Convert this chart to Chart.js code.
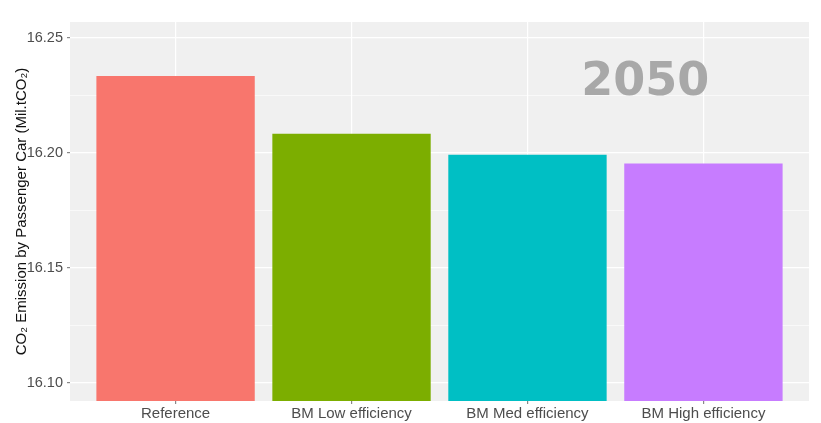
<!DOCTYPE html>
<html><head><meta charset="utf-8">
<script src="https://cdn.jsdelivr.net/npm/chart.js@4/dist/chart.umd.min.js"></script>
<style>html,body{margin:0;padding:0;background:#fff}#wrap{width:821px;height:423px}</style>
</head><body><div id="wrap"><canvas id="c" width="821" height="423"></canvas></div>
<script>
const categories = ["Reference", "BM Low efficiency", "BM Med efficiency", "BM High efficiency"];
const emissions = [16.2335, 16.2084, 16.1993, 16.1955];
const barColors = ["#F8766D", "#7CAE00", "#00BFC4", "#C77CFF"];
const yMajorTicks = [16.10, 16.15, 16.20, 16.25];
const yMinorTicks = [16.125, 16.175, 16.225];
const annotationText = "2050";
const annotationPos = {x: 2.67, y: 16.2305};

const panelBg = {
  id: 'panelBg',
  beforeDraw(chart) {
    const a = chart.chartArea, ctx = chart.ctx;
    ctx.save(); ctx.fillStyle = '#F0F0F0';
    ctx.fillRect(a.left, a.top, a.right - a.left, a.bottom - a.top);
    ctx.restore();
  }
};
const annot = {
  id: 'annot',
  afterDatasetsDraw(chart) {
    const ctx = chart.ctx, xs = chart.scales.x, ys = chart.scales.y;
    ctx.save();
    ctx.font = 'bold 46px "DejaVu Sans"';
    ctx.fillStyle = '#A8A8A8';
    ctx.textAlign = 'center'; ctx.textBaseline = 'middle';
    ctx.fillText(annotationText, xs.getPixelForValue(annotationPos.x), ys.getPixelForValue(annotationPos.y));
    ctx.restore();
  }
};

const allY = yMajorTicks.concat(yMinorTicks).sort((a,b)=>a-b);
const isMajor = v => yMajorTicks.some(t => Math.abs(t - v) < 1e-6);

new Chart(document.getElementById('c'), {
  type: 'bar',
  data: {
    datasets: [{
      data: categories.map((c, i) => ({x: i, y: emissions[i]})),
      backgroundColor: barColors,
      borderWidth: 0,
      barPercentage: 0.9,
      categoryPercentage: 1.0
    }]
  },
  plugins: [panelBg, annot],
  options: {
    responsive: false,
    animation: false,
    layout: {padding: {left: 13, top: 22, right: 12, bottom: 0}},
    plugins: {legend: {display: false}, tooltip: {enabled: false}},
    scales: {
      x: {
        type: 'linear', min: -0.6, max: 3.6, offset: false,
        afterBuildTicks: s => { s.ticks = categories.map((c, i) => ({value: i})); },
        afterFit: s => { s.height = 22; },
        ticks: {
          callback: v => categories[v] ?? '',
          color: '#4D4D4D', font: {family: '"Liberation Sans", Arial', size: 15},
          padding: 1, maxRotation: 0, autoSkip: false
        },
        grid: {offset: false, color: '#FFFFFF', lineWidth: 1.2, tickLength: 3, tickColor: '#888888', drawTicks: true},
        border: {display: false}
      },
      y: {
        type: 'linear', min: 16.0922, max: 16.257,
        afterBuildTicks: s => { s.ticks = allY.map(v => ({value: v})); },
        afterFit: s => { s.width = 57; },
        ticks: {
          callback: v => isMajor(v) ? v.toFixed(2) : '',
          color: '#4D4D4D', font: {family: '"Liberation Sans", Arial', size: 14.5},
          padding: 4, autoSkip: false
        },
        grid: {
          color: '#FFFFFF',
          lineWidth: c => isMajor(c.tick.value) ? 1.2 : 0.6,
          tickLength: 3,
          tickColor: c => isMajor(c.tick.value) ? '#888888' : 'rgba(0,0,0,0)'
        },
        border: {display: false},
        title: {
          display: true,
          text: 'CO\u2082 Emission by Passenger Car (Mil.tCO\u2082)',
          color: '#111111', font: {family: '"Liberation Sans", Arial', size: 15},
          padding: {top: 0, bottom: 2}
        }
      }
    }
  }
});
</script></body></html>
